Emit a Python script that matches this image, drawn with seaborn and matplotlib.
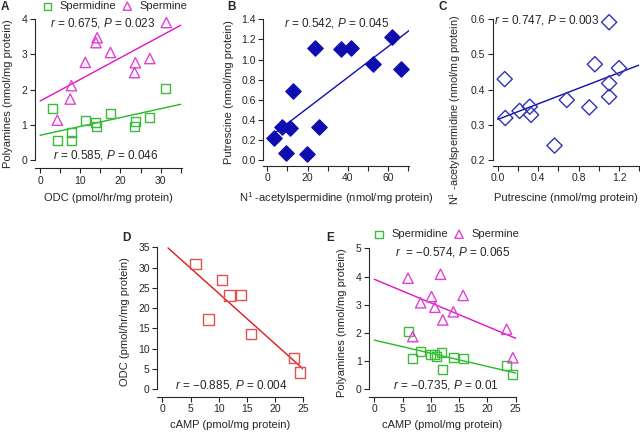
import numpy as np
import pandas as pd
import seaborn as sns
import matplotlib.pyplot as plt
from matplotlib.ticker import MultipleLocator, FormatStrFormatter

sns.set_style("ticks")
plt.rcParams['font.family'] = ['Liberation Sans', 'DejaVu Sans']
plt.rcParams['mathtext.fontset'] = 'custom'
plt.rcParams['mathtext.rm'] = 'Liberation Sans'
plt.rcParams['mathtext.it'] = 'Liberation Sans:italic'
plt.rcParams['font.size'] = 7.5

# panel A: ODC vs polyamines
odc_spd = [3.1, 4.3, 7.7, 7.75, 11.25, 13.9, 14.1, 17.5, 23.5, 23.75, 27.3, 31.25]
spd_a = [1.45, 0.55, 0.55, 0.78, 1.13, 1.07, 0.95, 1.32, 0.95, 1.09, 1.21, 2.03]
odc_spm = [4.3, 7.5, 7.8, 11.25, 13.9, 14.2, 17.5, 23.5, 23.7, 27.3, 31.4]
spm_a = [1.13, 1.73, 2.11, 2.77, 3.33, 3.47, 3.05, 2.48, 2.76, 2.88, 3.9]

# panel B: N1-acetylspermidine vs putrescine
acspd_b = [3.5, 9.3, 7.1, 11.2, 12.9, 19.8, 23.6, 25.5, 36.7, 41.3, 52.4, 61.8, 66.4]
put_b = [0.22, 0.073, 0.325, 0.32, 0.69, 0.06, 1.11, 0.33, 1.10, 1.11, 0.96, 1.22, 0.91]

# panel C: putrescine vs N1-acetylspermidine
put_c = [0.069, 0.075, 0.216, 0.317, 0.330, 0.562, 0.683, 0.906, 0.961, 1.102, 1.102, 1.102, 1.200]
acspd_c = [0.430, 0.320, 0.340, 0.352, 0.329, 0.242, 0.371, 0.350, 0.472, 0.418, 0.380, 0.591, 0.461]

# panel D: cAMP vs ODC
camp_d = [5.9, 8.16, 10.6, 11.9, 13.9, 15.7, 23.3, 24.4]
odc_d = [30.9, 17.2, 26.9, 23.1, 23.3, 13.6, 7.66, 4.1]

# panel E: cAMP vs polyamines
camp_spd = [5.95, 6.78, 8.19, 9.96, 10.55, 11.0, 11.9, 12.0, 13.97, 15.7, 23.4, 24.4]
spd_e = [2.04, 1.10, 1.34, 1.25, 1.25, 1.18, 1.30, 0.72, 1.12, 1.10, 0.83, 0.54]
camp_spm = [5.95, 6.78, 8.19, 10.1, 10.7, 11.7, 12.1, 13.97, 15.7, 23.4, 24.5]
spm_e = [3.94, 1.87, 3.07, 3.29, 2.91, 4.08, 2.46, 2.75, 3.33, 2.13, 1.12]

green = '#3cbb3c'
green_line = '#22bb22'
magenta = '#e040d4'
magenta_line = '#e014c4'
blue = '#0e0eb0'
red = '#e25050'
red_line = '#e01818'


def fit_line(ax, x, y, span, color):
    k, b = np.polyfit(x, y, 1)
    xs = np.array(span)
    sns.lineplot(x=xs, y=k * xs + b, ax=ax, color=color, lw=1.0)


def dots(ax, x, y, marker, s, face, edge, label=None):
    sns.scatterplot(x=x, y=y, ax=ax, marker=marker, s=s, facecolor=face,
                    edgecolor=edge, linewidth=1.0, label=label, clip_on=False,
                    zorder=3)


def style(ax, xlim, ylim, xmaj, xmin, ymaj, ybounds):
    ax.set_xlim(*xlim)
    ax.set_ylim(*ylim)
    ax.xaxis.set_major_locator(MultipleLocator(xmaj))
    if xmin:
        ax.xaxis.set_minor_locator(MultipleLocator(xmin))
    ax.yaxis.set_major_locator(MultipleLocator(ymaj))
    ax.spines['left'].set_bounds(*ybounds)
    ax.spines['bottom'].set_bounds(*xlim)
    for s in ['top', 'right']:
        ax.spines[s].set_visible(False)
    for s in ['left', 'bottom']:
        ax.spines[s].set_linewidth(0.8)
    ax.tick_params(which='both', length=3.5, width=0.8, labelsize=7.5, pad=2)


def legend(ax, x, y):
    ax.legend(loc='center', bbox_to_anchor=(x, y), ncol=2, frameon=False,
              fontsize=8, handlelength=0.8, handletextpad=0.7,
              columnspacing=0.6, markerscale=0.8)


fig = plt.figure(figsize=(6.4, 4.32), dpi=100)

# ---- A
ax = fig.add_axes([0.0547, 0.611, 0.2297, 0.345])
fit_line(ax, odc_spm, spm_a, [0, 35], magenta_line)
fit_line(ax, odc_spd, spd_a, [0, 35], green_line)
dots(ax, odc_spd, spd_a, 's', 42, 'none', green, 'Spermidine')
dots(ax, odc_spm, spm_a, '^', 55, 'none', magenta, 'Spermine')
style(ax, (-1.25, 35.3), (-0.227, 4.0), 10, 5, 1, (0, 4))
ax.set_xlabel('ODC (pmol/hr/mg protein)', fontsize=8, labelpad=5)
ax.set_ylabel('Polyamines (nmol/mg protein)', fontsize=8, labelpad=6)
legend(ax, 0.545, 1.087)
ax.text(0.10, 0.973, '$r$ = 0.675, $P$ = 0.023', transform=ax.transAxes,
        fontsize=8.5, va='center', ha='left')
ax.text(0.12, 0.087, '$r$ = 0.585, $P$ = 0.046', transform=ax.transAxes,
        fontsize=8.5, va='center', ha='left')

# ---- B
ax = fig.add_axes([0.4114, 0.6164, 0.2281, 0.3389])
fit_line(ax, acspd_b, put_b, [3.5, 70.4], blue)
dots(ax, acspd_b, put_b, 'D', 60, blue, blue)
style(ax, (-2, 70.4), (-0.057, 1.4), 20, 10, 0.2, (0, 1.4))
ax.yaxis.set_major_formatter(FormatStrFormatter('%.1f'))
ax.set_xlabel('N$^{1}$ -acetylspermidine (nmol/mg protein)', fontsize=8, labelpad=5)
ax.set_ylabel('Putrescine (nmol/mg protein)', fontsize=8, labelpad=5)
ax.text(0.14, 0.975, '$r$ = 0.542, $P$ = 0.045', transform=ax.transAxes,
        fontsize=8.5, va='center', ha='left')

# ---- C
ax = fig.add_axes([0.7698, 0.6164, 0.229, 0.3396])
fit_line(ax, put_c, acspd_c, [0, 1.4], blue)
dots(ax, put_c, acspd_c, 'D', 60, 'none', '#3232b4')
style(ax, (-0.05, 1.4), (0.185, 0.6), 0.4, 0.2, 0.1, (0.2, 0.6))
ax.xaxis.set_major_formatter(FormatStrFormatter('%.1f'))
ax.set_xlabel('Putrescine (nmol/mg protein)', fontsize=8, labelpad=7)
ax.set_ylabel('N$^{1}$ -acetylspermidine (nmol/mg protein)', fontsize=7.8)
ax.yaxis.set_label_coords(-0.20, 0.38)
ax.text(0.01, 0.99, '$r$ = 0.747, $P$ = 0.003', transform=ax.transAxes,
        fontsize=8.5, va='center', ha='left')

# ---- D
ax = fig.add_axes([0.2458, 0.0817, 0.2281, 0.3458])
fit_line(ax, camp_d, odc_d, [1, 25], red_line)
dots(ax, camp_d, odc_d, 's', 55, 'none', red)
style(ax, (-0.9, 25), (-1.9, 35), 5, None, 5, (0, 35))
ax.set_xlabel('cAMP (pmol/mg protein)', fontsize=8, labelpad=4)
ax.set_ylabel('ODC (pmol/hr/mg protein)', fontsize=8, labelpad=6)
ax.text(0.12, 0.078, '$r$ = \u22120.885, $P$ = 0.004', transform=ax.transAxes,
        fontsize=8.5, va='center', ha='left')

# ---- E
ax = fig.add_axes([0.5770, 0.0817, 0.2288, 0.3435])
fit_line(ax, camp_spm, spm_e, [0, 25], magenta_line)
fit_line(ax, camp_spd, spd_e, [0, 25], green_line)
dots(ax, camp_spd, spd_e, 's', 42, 'none', green, 'Spermidine')
dots(ax, camp_spm, spm_e, '^', 55, 'none', magenta, 'Spermine')
style(ax, (-0.9, 25), (-0.26, 5), 5, None, 1, (0, 5))
ax.set_xlabel('cAMP (pmol/mg protein)', fontsize=8, labelpad=4)
ax.set_ylabel('Polyamines (nmol/mg protein)', fontsize=8, labelpad=6)
legend(ax, 0.53, 1.096)
ax.text(0.175, 0.975, '$r$  = \u22120.574, $P$ = 0.065', transform=ax.transAxes,
        fontsize=8.5, va='center', ha='left')
ax.text(0.16, 0.079, '$r$ = \u22120.735, $P$ = 0.01', transform=ax.transAxes,
        fontsize=8.5, va='center', ha='left')

# panel letters
for lab, x, y in [('A', 5, 7), ('B', 231, 7), ('C', 443, 7), ('D', 126, 238), ('E', 330, 238)]:
    fig.text(x / 640, 1 - y / 432, lab, fontsize=8.5, fontweight='bold',
             ha='center', va='center')

fig.savefig('out.png', dpi=100)
